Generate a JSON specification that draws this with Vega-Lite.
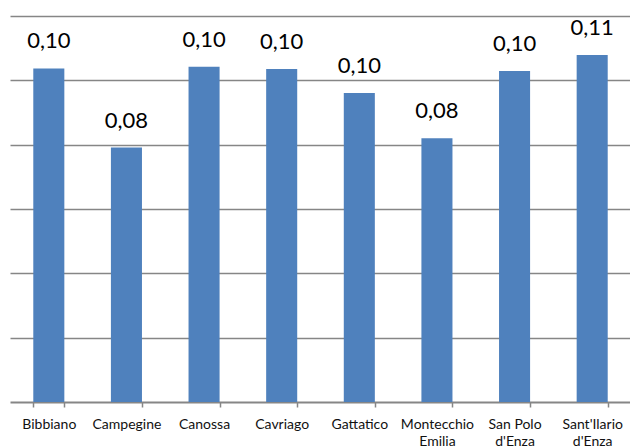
{
  "$schema": "https://vega.github.io/schema/vega-lite/v6.json",
  "autosize": {"type": "none"},
  "padding": {"left": 10, "top": 16, "right": 0, "bottom": 46},
  "width": 621,
  "height": 386,
  "background": "white",
  "config": {
    "view": {"stroke": null},
    "locale": {
      "number": {"decimal": ",", "thousands": ".", "grouping": [3], "currency": ["€", ""]}
    }
  },
  "data": {
    "values": [
      {"comune": "Bibbiano", "valore": 0.1037},
      {"comune": "Campegine", "valore": 0.0791},
      {"comune": "Canossa", "valore": 0.1042},
      {"comune": "Cavriago", "valore": 0.1035},
      {"comune": "Gattatico", "valore": 0.0961},
      {"comune": "Montecchio Emilia", "valore": 0.0820},
      {"comune": "San Polo d'Enza", "valore": 0.1029},
      {"comune": "Sant'Ilario d'Enza", "valore": 0.1079}
    ]
  },
  "encoding": {
    "x": {
      "field": "comune",
      "type": "nominal",
      "sort": null,
      "scale": {"paddingInner": 0.6, "paddingOuter": 0.3},
      "axis": {
        "title": null,
        "labelAngle": 0,
        "labelFont": "Lato",
        "labelFontSize": 14,
        "labelColor": "#111111",
        "labelPadding": 10,
        "labelLineHeight": 17,
        "labelBaseline": "top",
        "labelExpr": "datum.value == 'Montecchio Emilia' ? ['Montecchio', 'Emilia'] : datum.value == \"San Polo d'Enza\" ? ['San Polo', \"d'Enza\"] : datum.value == \"Sant'Ilario d'Enza\" ? [\"Sant'Ilario\", \"d'Enza\"] : datum.value",
        "domainColor": "#868686",
        "domainWidth": 2,
        "tickColor": "#868686",
        "tickWidth": 1.5,
        "tickSize": 5,
        "tickBand": "extent",
        "grid": false
      }
    },
    "y": {
      "field": "valore",
      "type": "quantitative",
      "scale": {"domain": [0, 0.12], "nice": false},
      "axis": {
        "title": null,
        "labels": false,
        "ticks": false,
        "domain": false,
        "values": [0.02, 0.04, 0.06, 0.08, 0.1, 0.12],
        "grid": true,
        "gridColor": "#868686",
        "gridWidth": 1.5
      }
    }
  },
  "layer": [
    {"mark": {"type": "bar", "color": "#4F81BD"}},
    {
      "mark": {
        "type": "text",
        "baseline": "bottom",
        "dy": -15,
        "font": "Lato",
        "fontSize": 22,
        "color": "#000000"
      },
      "encoding": {
        "text": {"field": "valore", "type": "quantitative", "format": ".2f"}
      }
    }
  ]
}
